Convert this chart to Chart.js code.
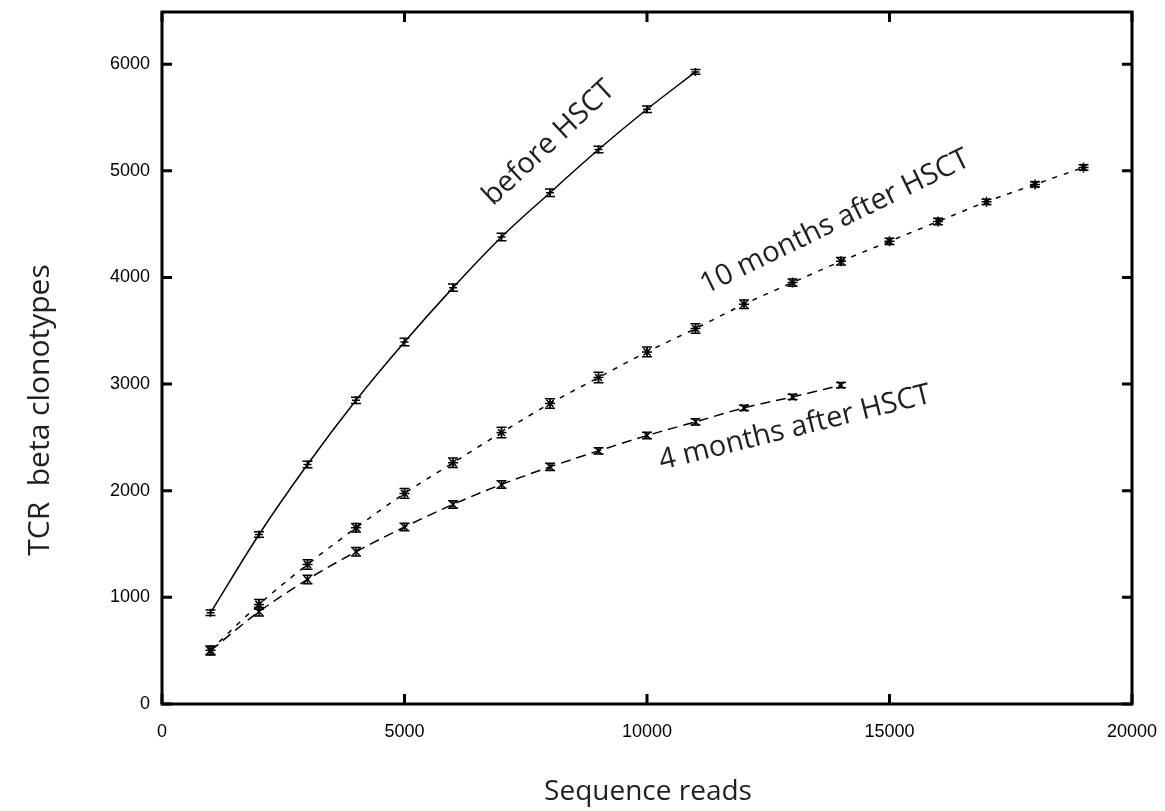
<!DOCTYPE html>
<html>
<head>
<meta charset="utf-8">
<script src="https://cdn.jsdelivr.net/npm/chart.js@4.4.0/dist/chart.umd.min.js"></script>
<style>
html,body{margin:0;padding:0;background:#fff}
</style>
</head>
<body>
<canvas id="myChart" width="1165" height="811"></canvas>
<script>
// sequence reads (x) and clonotype counts per sample
var reads = [1000,2000,3000,4000,5000,6000,7000,8000,9000,10000,11000,12000,13000,14000,15000,16000,17000,18000,19000]
var beforeHSCT = [856,1590,2246,2848,3395,3905,4380,4795,5200,5578,5928]
var beforeErr = [25,25,30,30,35,35,35,35,30,30,22]
var tenMonths = [505,934,1309,1652,1975,2262,2546,2818,3062,3302,3521,3749,3952,4152,4339,4525,4710,4873,5032]
var tenErr = [40,45,45,40,45,45,50,45,50,45,45,40,35,35,30,30,25,25,25]
var fourMonths = [500,866,1168,1428,1660,1872,2059,2224,2374,2518,2646,2777,2880,2990]
var fourErr = [40,40,40,40,35,35,35,35,30,30,30,25,25,25]
var xTicks = [0,5000,10000,15000,20000]
var yTicks = [0,1000,2000,3000,4000,5000,6000]
var labels = ["before HSCT","10 months after HSCT","4 months after HSCT"]

function punti(ys){
    var out=[]
    for(var i=0;i<ys.length;i++){
        out.push({x:reads[i],y:ys[i]})
    }
    return out
}

var errori = [beforeErr,tenErr,fourErr]

// error bars drawn through the scales
var errorBars = {
    id:'errorBars',
    afterDatasetsDraw(chart){
        var ctx=chart.ctx
        var ys=chart.scales.y
        ctx.save()
        ctx.strokeStyle='#000'
        ctx.lineWidth=1.5
        chart.data.datasets.forEach(function(ds,d){
            var meta=chart.getDatasetMeta(d)
            ds.data.forEach(function(p,i){
                var x=meta.data[i].x
                var y1=ys.getPixelForValue(p.y-errori[d][i])
                var y2=ys.getPixelForValue(p.y+errori[d][i])
                ctx.beginPath()
                ctx.moveTo(x,y1);ctx.lineTo(x,y2)
                ctx.moveTo(x-5,y1);ctx.lineTo(x+5,y1)
                ctx.moveTo(x-5,y2);ctx.lineTo(x+5,y2)
                ctx.stroke()
            })
        })
        ctx.restore()
    }
}

// frame, inward ticks and texts
var cornice = {
    id:'cornice',
    afterDraw(chart){
        var ctx=chart.ctx
        var a=chart.chartArea
        var xs=chart.scales.x, ys=chart.scales.y
        ctx.save()
        ctx.strokeStyle='#000'
        ctx.lineWidth=3
        ctx.strokeRect(a.left,a.top,a.right-a.left,a.bottom-a.top)
        ctx.beginPath()
        xTicks.forEach(function(v){
            var x=xs.getPixelForValue(v)
            ctx.moveTo(x,a.bottom);ctx.lineTo(x,a.bottom-10)
            ctx.moveTo(x,a.top);ctx.lineTo(x,a.top+10)
        })
        yTicks.forEach(function(v){
            var y=ys.getPixelForValue(v)
            ctx.moveTo(a.left,y);ctx.lineTo(a.left+10,y)
            ctx.moveTo(a.right,y);ctx.lineTo(a.right-10,y)
        })
        ctx.stroke()

        ctx.fillStyle='#231f20'
        ctx.font='28px "Open Sans"'
        ctx.textAlign='center'
        ctx.textBaseline='middle'
        ctx.fillText('Sequence reads',648,792)
        ctx.save()
        ctx.font='30px "Open Sans"'
        ctx.translate(40,410)
        ctx.rotate(-Math.PI/2)
        ctx.fillText('TCR  beta clonotypes',0,0)
        ctx.restore()

        ctx.font='29px "Open Sans"'
        var note=[[labels[0],549,143,-43],[labels[1],835,222,-26],[labels[2],795,428,-14]]
        note.forEach(function(n){
            ctx.save()
            ctx.translate(n[1],n[2])
            ctx.rotate(n[3]*Math.PI/180)
            ctx.fillText(n[0],0,0)
            ctx.restore()
        })
        ctx.restore()
    }
}

const ctx = document.getElementById('myChart').getContext('2d')
var myChart = new Chart(ctx,{
    type:'line',
    data:{
        datasets:[{
            label:labels[0],
            data:punti(beforeHSCT),
            borderColor:'#000',
            backgroundColor:'#000',
            borderWidth:1.5,
            pointStyle:'cross',
            pointRadius:4,
            pointBorderWidth:1.5,
            cubicInterpolationMode:'monotone'
        },{
            label:labels[1],
            data:punti(tenMonths),
            borderColor:'#000',
            backgroundColor:'#000',
            borderWidth:1.5,
            borderDash:[5,7],
            pointStyle:'star',
            pointRadius:5,
            pointBorderWidth:1.5,
            cubicInterpolationMode:'monotone'
        },{
            label:labels[2],
            data:punti(fourMonths),
            borderColor:'#000',
            backgroundColor:'#000',
            borderWidth:1.5,
            borderDash:[10,6],
            pointStyle:'crossRot',
            pointRadius:5,
            pointBorderWidth:1.5,
            cubicInterpolationMode:'monotone'
        }]
    },
    options:{
        responsive:false,
        animation:false,
        layout:{padding:{top:12,right:33,left:0,bottom:0}},
        plugins:{legend:{display:false},tooltip:{enabled:false}},
        scales:{
            x:{
                type:'linear',
                min:0,max:20000,
                grid:{display:false,drawTicks:false},
                border:{display:false},
                afterBuildTicks:function(s){s.ticks=xTicks.map(function(v){return {value:v}})},
                afterFit:function(s){s.height=107;s.paddingLeft=0;s.paddingRight=0},
                ticks:{color:'#000',font:{family:'"Liberation Sans"',size:18},padding:17,maxRotation:0,
                    callback:function(v){return String(v)}}
            },
            y:{
                min:0,max:6490,
                grid:{display:false,drawTicks:false},
                border:{display:false},
                afterBuildTicks:function(s){s.ticks=yTicks.map(function(v){return {value:v}})},
                afterFit:function(s){s.width=162;s.paddingTop=0;s.paddingBottom=0},
                ticks:{color:'#000',font:{family:'"Liberation Sans"',size:18},padding:12,
                    callback:function(v){return String(v)}}
            }
        }
    },
    plugins:[errorBars,cornice]
})
</script>
</body>
</html>
